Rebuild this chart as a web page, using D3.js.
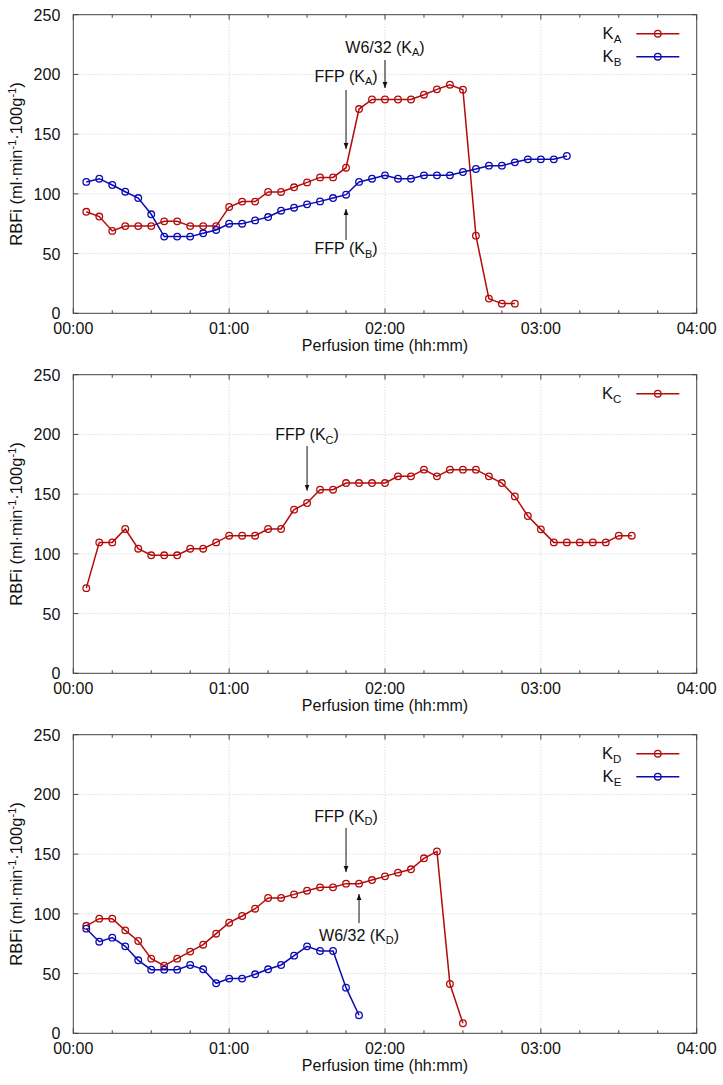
<!DOCTYPE html>
<html lang="en">
<head>
<meta charset="UTF-8">
<title>RBFi vs perfusion time</title>
<script src="https://cdn.jsdelivr.net/npm/d3@7"></script>
<style>
    body { margin: 0; background: #fff; }
    svg text { font-family: "Liberation Sans", Arial, sans-serif; fill: #111; }
    .grid line { stroke: #d0d0d0; stroke-width: 1; stroke-dasharray: 1,2; }
    .frame { fill: none; stroke: #444; stroke-width: 1; }
    .tick-mark { stroke: #444; stroke-width: 1; }
    .series { fill: none; stroke-width: 1.5; }
    .arrow { stroke: #111; stroke-width: 1; }
</style>
</head>
<body>
<div id="chart"></div>
<script>
    // sampling: one reading every 5 minutes, first one at 00:05
    var step = 5;

    // RBFi values (ml/min/100g)
    var kA = [85, 81, 69, 73, 73, 73, 77, 77, 73, 73, 73, 89, 93.5, 93.5, 101.6, 101.6, 105.5, 109.6, 113.8, 113.8,
              121.9, 171, 179, 179, 179, 179, 183, 187.5, 191.4, 187.2, 65, 12.3, 8.1, 8.1];
    var kB = [110, 112.7, 107.4, 101.8, 96.5, 82.9, 64.2, 64.2, 64.2, 67, 69.8, 75, 75, 77.8, 80.6, 85.9, 88.4, 91.2, 93.7, 96.5,
              99.3, 110, 112.7, 115.5, 112.7, 112.7, 115.5, 115.5, 115.5, 118.3, 120.8, 123.6, 123.6, 126.4, 128.9, 128.9, 128.9, 131.7];
    var kC = [71.3, 109.6, 109.6, 120.8, 104.3, 98.8, 98.8, 98.8, 104.3, 104.3, 109.6, 115.2, 115.2, 115.2, 120.8, 120.8, 137, 142.6, 153.7, 153.7,
              159.3, 159.3, 159.3, 159.3, 164.9, 164.9, 170.5, 164.9, 170.5, 170.5, 170.5, 164.9, 159.3, 148.1, 131.7, 120.5,
              109.6, 109.6, 109.6, 109.6, 109.6, 115.2, 115.2];
    var kD = [90, 96, 96, 86.2, 77.3, 62.5, 56.6, 62.5, 68.4, 74.2, 83.4, 92.6, 98.2, 104.3, 113.3, 113.3, 116.3, 119.4, 122.2, 122.2,
              125.3, 125.3, 128.3, 131.4, 134.5, 137.3, 146.5, 152.3, 41.3, 8.4];
    var kE = [87.6, 76.7, 80.1, 72.8, 61.1, 53.3, 53.3, 53.3, 57.2, 53.6, 41.9, 45.8, 45.8, 49.4, 53.6, 57.2, 65, 72.8, 68.9, 68.9,
              38.2, 15.1];

    // axis ticks
    var xTicks = [0, 60, 120, 180, 240];          // minutes
    var xTickLabels = ["00:00", "01:00", "02:00", "03:00", "04:00"];
    var xMinor = [15, 30, 45, 75, 90, 105, 135, 150, 165, 195, 210, 225];
    var yTicks = [0, 50, 100, 150, 200, 250];

    var red = "#b40a0a", blue = "#0a0ab4";

    // panels: series + annotations (time in min, arrow from/to value, label value)
    var panels = [
        { series: [{ sub: "A", values: kA, color: red }, { sub: "B", values: kB, color: blue }],
          notes: [
              { main: "W6/32", sub: "A", t: 120, from: 212, to: 188.6, label: 218 },
              { main: "FFP", sub: "A", t: 105, from: 187, to: 137.6, label: 193.7 },
              { main: "FFP", sub: "B", t: 105, from: 61.4, to: 87.3, label: 49.6 }
          ] },
        { series: [{ sub: "C", values: kC, color: red }],
          notes: [
              { main: "FFP", sub: "C", t: 90, from: 190.3, to: 152.9, label: 195.2 }
          ] },
        { series: [{ sub: "D", values: kD, color: red }, { sub: "E", values: kE, color: blue }],
          notes: [
              { main: "FFP", sub: "D", t: 105, from: 171.9, to: 135, label: 176.9 },
              { main: "W6/32", sub: "D", t: 110, from: 92.3, to: 116.6, label: 77.3 }
          ] }
    ];

    var W = 723, H = 1085;
    var margin = { top: 14.7, right: 26.3, left: 73.3 };
    var plotH = 298.6, panelGap = 360;
    var width = W - margin.left - margin.right;

    var svg = d3.select("#chart").append("svg")
        .attr("width", W)
        .attr("height", H);

    var defs = svg.append("defs");
    defs.append("marker")
        .attr("id", "head")
        .attr("viewBox", "0 0 10 10")
        .attr("refX", 10).attr("refY", 5)
        .attr("markerWidth", 6).attr("markerHeight", 6)
        .attr("markerUnits", "userSpaceOnUse")
        .attr("orient", "auto")
        .append("path")
        .attr("d", "M0,1 L10,5 L0,9 Z")
        .attr("fill", "#111");

    var x = d3.scaleLinear().domain([0, 240]).range([0, width]);
    var y = d3.scaleLinear().domain([0, 250]).range([plotH, 0]);

    var line = d3.line()
        .x(function(d) { return x(d.t); })
        .y(function(d) { return y(d.v); });

    function toPoints(values) {
        return values.map(function(v, i) { return { t: (i + 1) * step, v: v }; });
    }

    // text with a K-style subscript, e.g. "FFP (K" + sub + ")"
    function subText(sel, prefix, sub, suffix) {
        sel.append("tspan").text(prefix);
        sel.append("tspan").attr("font-size", "11px").attr("dy", 3.5).text(sub);
        if (suffix) sel.append("tspan").attr("dy", -3.5).text(suffix);
    }

    panels.forEach(function(p, k) {
        var g = svg.append("g")
            .attr("transform", "translate(" + margin.left + "," + (margin.top + k * panelGap) + ")");

        // grid
        var grid = g.append("g").attr("class", "grid");
        grid.selectAll(".gx").data(xTicks.slice(1, -1)).enter().append("line")
            .attr("x1", function(d) { return x(d); }).attr("x2", function(d) { return x(d); })
            .attr("y1", 0).attr("y2", plotH);
        grid.selectAll(".gy").data(yTicks.slice(1, -1)).enter().append("line")
            .attr("x1", 0).attr("x2", width)
            .attr("y1", function(d) { return y(d); }).attr("y2", function(d) { return y(d); });

        // inward ticks on all four sides
        var ticks = g.append("g");
        xTicks.concat(xMinor).forEach(function(t) {
            var len = xTicks.indexOf(t) >= 0 ? 5 : 3;
            ticks.append("line").attr("class", "tick-mark")
                .attr("x1", x(t)).attr("x2", x(t)).attr("y1", plotH).attr("y2", plotH - len);
            ticks.append("line").attr("class", "tick-mark")
                .attr("x1", x(t)).attr("x2", x(t)).attr("y1", 0).attr("y2", len);
        });
        yTicks.forEach(function(v) {
            ticks.append("line").attr("class", "tick-mark")
                .attr("x1", 0).attr("x2", 5).attr("y1", y(v)).attr("y2", y(v));
            ticks.append("line").attr("class", "tick-mark")
                .attr("x1", width).attr("x2", width - 5).attr("y1", y(v)).attr("y2", y(v));
        });

        g.append("rect").attr("class", "frame")
            .attr("x", 0).attr("y", 0).attr("width", width).attr("height", plotH);

        // tick labels
        g.selectAll(".xl").data(xTicks).enter().append("text")
            .attr("x", function(d) { return x(d); })
            .attr("y", plotH + 21)
            .attr("text-anchor", "middle")
            .attr("font-size", "16px")
            .text(function(d, i) { return xTickLabels[i]; });
        g.selectAll(".yl").data(yTicks).enter().append("text")
            .attr("x", -13)
            .attr("y", function(d) { return y(d) + 6; })
            .attr("text-anchor", "end")
            .attr("font-size", "16px")
            .text(function(d) { return d; });

        // axis titles
        g.append("text")
            .attr("x", width / 2)
            .attr("y", plotH + 38)
            .attr("text-anchor", "middle")
            .attr("font-size", "16px")
            .text("Perfusion time (hh:mm)");

        var yt = g.append("text")
            .attr("transform", "translate(" + (-51) + "," + (plotH / 2) + ") rotate(-90)")
            .attr("text-anchor", "middle")
            .attr("font-size", "16.5px");
        yt.append("tspan").text("RBFi (ml·min");
        yt.append("tspan").attr("font-size", "11px").attr("dy", -6.5).text("-1");
        yt.append("tspan").attr("dy", 6.5).text("·100g");
        yt.append("tspan").attr("font-size", "11px").attr("dy", -6.5).text("-1");
        yt.append("tspan").attr("dy", 6.5).text(")");

        // series
        p.series.forEach(function(s, j) {
            var pts = toPoints(s.values);
            g.append("path").datum(pts)
                .attr("class", "series")
                .attr("stroke", s.color)
                .attr("d", line);
            g.selectAll(".pt" + j).data(pts).enter().append("circle")
                .attr("cx", function(d) { return x(d.t); })
                .attr("cy", function(d) { return y(d.v); })
                .attr("r", 3.3)
                .attr("fill", "none")
                .attr("stroke", s.color)
                .attr("stroke-width", 1.3);

            // legend
            var ly = 19 + j * 23;
            var lt = g.append("text")
                .attr("x", 548)
                .attr("y", ly + 5.5)
                .attr("text-anchor", "end")
                .attr("font-size", "16.5px");
            lt.append("tspan").text("K");
            lt.append("tspan").attr("font-size", "11.5px").attr("dy", 3.5).text(s.sub);
            g.append("line")
                .attr("x1", 563).attr("x2", 606)
                .attr("y1", ly).attr("y2", ly)
                .attr("stroke", s.color).attr("stroke-width", 1.5);
            g.append("circle")
                .attr("cx", 584.5).attr("cy", ly).attr("r", 3.3)
                .attr("fill", "none").attr("stroke", s.color).attr("stroke-width", 1.3);
        });

        // annotations
        p.notes.forEach(function(n) {
            g.append("line").attr("class", "arrow")
                .attr("x1", x(n.t)).attr("x2", x(n.t))
                .attr("y1", y(n.from)).attr("y2", y(n.to))
                .attr("marker-end", "url(#head)");
            var t = g.append("text")
                .attr("x", x(n.t))
                .attr("y", y(n.label))
                .attr("text-anchor", "middle")
                .attr("font-size", "16px");
            subText(t, n.main + " (K", n.sub, ")");
        });
    });
</script>
</body>
</html>
